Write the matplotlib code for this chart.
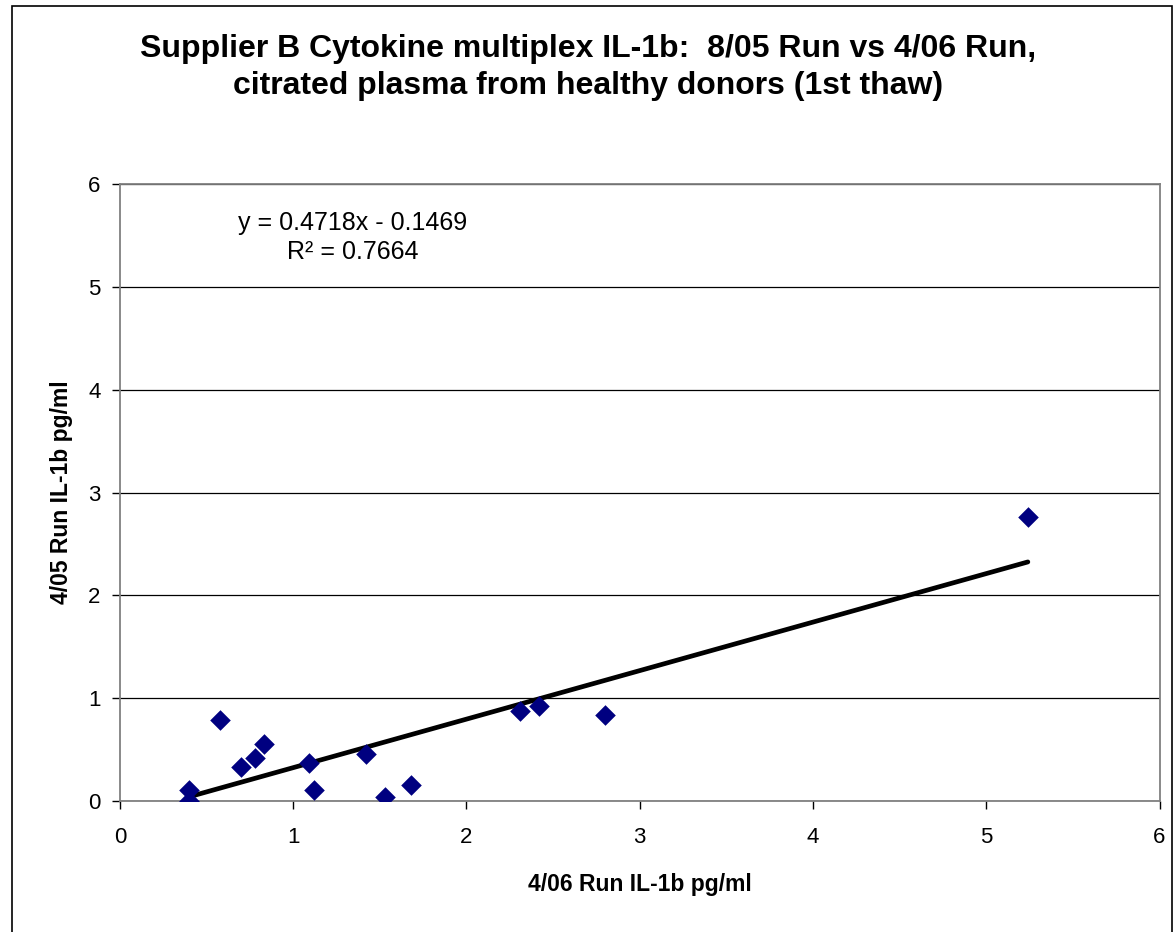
import numpy as np
import matplotlib.pyplot as plt
from matplotlib.patches import Rectangle

plt.rcParams['font.family'] = ['Liberation Sans', 'DejaVu Sans']

# 4/06 run (x) vs 8/05 run (y), pg/ml
x_run406 = [0.40, 0.40, 0.58, 0.70, 0.78, 0.83, 1.09, 1.12, 1.42, 1.53, 1.68, 2.31, 2.42, 2.80, 5.24]
y_run805 = [0.11, 0.00, 0.79, 0.33, 0.42, 0.55, 0.37, 0.11, 0.46, 0.04, 0.16, 0.88, 0.92, 0.84, 2.76]
slope = 0.4718
intercept = -0.1469
r2 = 0.7664

fig = plt.figure(figsize=(11.76, 9.32), dpi=100)
ax = fig.add_axes([0.102, 0.1405, 0.884, 0.662])

# chart border
fig.patches.append(Rectangle((0.010, -0.01), 0.987, 1.004, transform=fig.transFigure,
                             fill=False, edgecolor='black', linewidth=1.2))

ax.scatter(x_run406, y_run805, marker='D', s=110, color='#000080', zorder=3, linewidths=0)

xs = np.array([min(x_run406), max(x_run406)])
ax.plot(xs, slope * xs + intercept, color='black', linewidth=3.4, solid_capstyle='round', zorder=2)

ax.set_xlim(0, 6)
ax.set_ylim(0, 6)
ax.set_xticks(range(0, 7))
ax.set_yticks(range(0, 7))
ax.yaxis.grid(True, color='black', linewidth=0.9)
ax.set_axisbelow(True)
for s in ax.spines.values():
    s.set_color('#808080')
    s.set_linewidth(1.3)
ax.tick_params(direction='out', length=6, width=1, color='black', labelsize=16)
ax.tick_params(axis='x', pad=13)
ax.tick_params(axis='y', pad=8)

ax.set_xlabel('4/06 Run IL-1b pg/ml', fontsize=16.5, fontweight='bold', labelpad=18)
ax.set_ylabel('4/05 Run IL-1b pg/ml', fontsize=16.5, fontweight='bold', labelpad=11)

fig.text(0.5, 0.9276, 'Supplier B Cytokine multiplex IL-1b:  8/05 Run vs 4/06 Run,\ncitrated plasma from healthy donors (1st thaw)',
         ha='center', va='center', fontsize=23, fontweight='bold', linespacing=1.28)

ax.text(1.345, 5.48, 'y = 0.4718x - 0.1469\nR² = 0.7664', ha='center', va='center',
        fontsize=18, linespacing=1.24)

fig.savefig('out.png', dpi=100)
